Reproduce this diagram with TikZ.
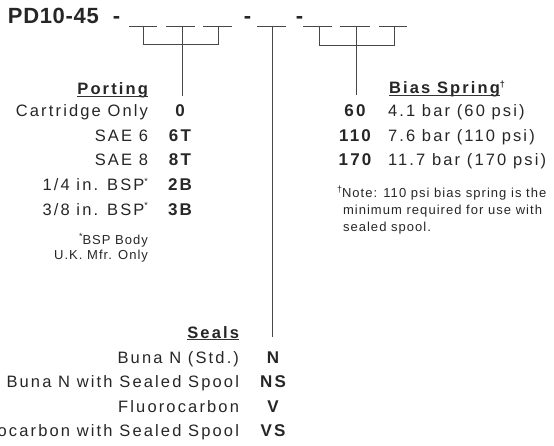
\documentclass[tikz,border=0pt]{standalone}
\usepackage{fontspec}
\setmainfont{Liberation Sans}
\newfontfamily\bodyf[LetterSpace=13]{Liberation Sans}
\newfontfamily\smallf[LetterSpace=8]{Liberation Sans}
\newfontfamily\titlef[LetterSpace=3]{Liberation Sans}
\usetikzlibrary{calc}
\newcommand\mysup[1]{\raisebox{0.42em}{\fontsize{9}{9}\selectfont #1}}
\tikzset{
  ln/.style={draw=black!72, line width=0.9pt},
  uline/.style={draw=black!80, line width=1.1pt},
  txt/.style={inner sep=0pt, outer sep=0pt, text=black!85},
  body/.style={txt, font=\bodyf\fontsize{16.5}{16.5}\selectfont},
  head/.style={txt, font=\bodyf\bfseries\fontsize{16.5}{16.5}\selectfont},
  code/.style={txt, anchor=base, font=\bodyf\bfseries\fontsize{17}{17}\selectfont},
  small/.style={txt, font=\smallf\fontsize{13}{13}\selectfont},
  ttl/.style={txt, font=\titlef\bfseries\fontsize{22}{22}\selectfont},
}
\begin{document}
\begin{tikzpicture}[x=1pt,y=-1pt]
\useasboundingbox (0,0) rectangle (554,446);
% title
\node[ttl, anchor=base west] (title) at (8,24) {PD10-45};
\node[ttl, anchor=base] (d0) at (116.5,24) {-};
\node[ttl, anchor=base] (d1) at (247.5,24) {-};
\node[ttl, anchor=base] (d2) at (299.5,24) {-};
% blanks
\foreach \n/\a/\b in {1/129/157,2/166/195,3/203/232,4/257/286,5/303/332,6/340/370,7/379/407}{
  \coordinate (s\n a) at (\a,26);
  \coordinate (s\n b) at (\b,26);
  \draw[ln] (s\n a) -- (s\n b);
}
% porting bracket
\coordinate (p1) at (143,26); \coordinate (p2) at (182,26); \coordinate (p3) at (218,26);
\coordinate (pb1) at (143,44); \coordinate (pb3) at (218,44); \coordinate (pend) at (182,96);
\draw[ln] (p1) -- (pb1) -- (pb3) -- (p3);
\draw[ln] (p2) -- (pend);
% seals line
\coordinate (q1) at (272,26); \coordinate (qend) at (272,337);
\draw[ln] (q1) -- (qend);
% bias bracket
\coordinate (b1) at (319,26); \coordinate (b2) at (356,26); \coordinate (b3) at (394,26);
\coordinate (bb1) at (319,45); \coordinate (bb3) at (394,45); \coordinate (bend) at (356,95);
\draw[ln] (b1) -- (bb1) -- (bb3) -- (b3);
\draw[ln] (b2) -- (bend);

% Porting
\node[head, anchor=base east] (porth) at (148,95) {Porting};
\draw[uline] ($(porth.base west)+(0,1.8)$) -- ($(porth.base east)+(0,1.8)$);
\node[body, anchor=base east] (pt1) at (148,117) {Cartridge Only};
\node[body, anchor=base east] (pt2) at (148,141.5) {SAE 6};
\node[body, anchor=base east] (pt3) at (148,166) {SAE 8};
\node[body, anchor=base east] (pt4) at (148,191) {1/4 in. BSP\mysup{*}};
\node[body, anchor=base east] (pt5) at (148,215.5) {3/8 in. BSP\mysup{*}};
\node[code] (pc1) at (180,117) {0};
\node[code] (pc2) at (180,141.5) {6T};
\node[code] (pc3) at (180,166) {8T};
\node[code] (pc4) at (180,191) {2B};
\node[code] (pc5) at (180,215.5) {3B};
\node[small, anchor=base east] (pn1) at (148,245) {\mysup{*}BSP Body};
\node[small, anchor=base east] (pn2) at (148,260) {U.K. Mfr. Only};

% Bias Spring
\node[head, anchor=base west] (biash) at (389,94) {Bias Spring};
\node[head, anchor=base west] (biasd) at (biash.base east) {\mysup{\textdagger}};
\draw[uline] ($(biash.base west)+(0,1.8)$) -- ($(biash.base east)+(0,1.8)$);
\node[code] (bc1) at (355,117) {60};
\node[code] (bc2) at (355,141.5) {110};
\node[code] (bc3) at (355,166) {170};
\node[body, anchor=base west] (bt1) at (388,117) {4.1 bar (60 psi)};
\node[body, anchor=base west] (bt2) at (388,141.5) {7.6 bar (110 psi)};
\node[body, anchor=base west] (bt3) at (388,166) {11.7 bar (170 psi)};
\node[small, anchor=base west] (bn1) at (337,198) {\mysup{\textdagger}Note: 110 psi bias spring is the};
\node[small, anchor=base west] (bn2) at (343,215) {minimum required for use with};
\node[small, anchor=base west] (bn3) at (343,232) {sealed spool.};

% Seals
\node[head, anchor=base east] (sealh) at (239,338) {Seals};
\draw[uline] ($(sealh.base west)+(0,1.8)$) -- ($(sealh.base east)+(0,1.8)$);
\node[body, anchor=base east] (st1) at (239,363) {Buna N (Std.)};
\node[body, anchor=base east] (st2) at (239,387) {Buna N with Sealed Spool};
\node[body, anchor=base east] (st3) at (239,412) {Fluorocarbon};
\node[body, anchor=base east] (st4) at (239,436) {Fluorocarbon with Sealed Spool};
\node[code] (sc1) at (273,363) {N};
\node[code] (sc2) at (273,387) {NS};
\node[code] (sc3) at (273,412) {V};
\node[code] (sc4) at (273,436) {VS};
\end{tikzpicture}
\end{document}
